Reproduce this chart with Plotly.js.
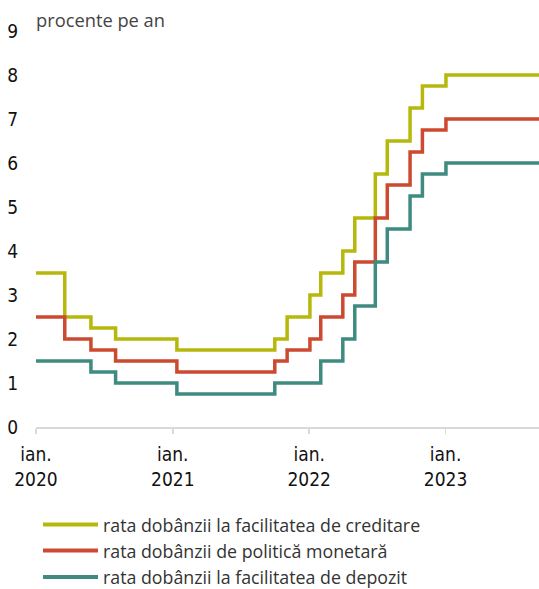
<!DOCTYPE html>
<html>
<head>
<meta charset="utf-8">
<script src="https://cdn.plot.ly/plotly-3.0.1.min.js"></script>
<style>
  html, body { margin: 0; padding: 0; background: #fff; }
  #chart { width: 539px; height: 589px; }
</style>
</head>
<body>
<div id="chart"></div>
<script>
// ---- data ----
const dates = ['2020-01-01','2020-03-18','2020-05-27','2020-08-01','2021-01-12','2021-10-01','2021-11-03','2022-01-03','2022-02-01','2022-04-01','2022-05-03','2022-06-27','2022-07-29','2022-09-28','2022-10-31','2023-01-02','2023-09-08'];
const lendingRate = [3.5,2.5,2.25,2.0,1.75,2.0,2.5,3.0,3.5,4.0,4.75,5.75,6.5,7.25,7.75,8.0,8.0];
const policyRate  = [2.5,2.0,1.75,1.5,1.25,1.5,1.75,2.0,2.5,3.0,3.75,4.75,5.5,6.25,6.75,7.0,7.0];
const depositRate = [1.5,1.5,1.25,1.0,0.75,1.0,1.0,1.0,1.5,2.0,2.75,3.75,4.5,5.25,5.75,6.0,6.0];
const seriesNames = ['rata dobânzii la facilitatea de creditare','rata dobânzii de politică monetară','rata dobânzii la facilitatea de depozit'];
const seriesColors = ['#b6b80c','#cc4a30','#3f8b80'];
const tickDates = ['2020-01-01','2021-01-01','2022-01-01','2023-01-01'];
const tickLabels = ['ian.<br>2020','ian.<br>2021','ian.<br>2022','ian.<br>2023'];
const yTicks = [0,1,2,3,4,5,6,7,8,9];
const unitLabel = 'procente pe an';

const seriesValues = [lendingRate, policyRate, depositRate];
const traces = seriesValues.map((v, i) => ({
  x: dates, y: v, type: 'scatter', mode: 'lines', name: seriesNames[i],
  line: {color: seriesColors[i], width: 3.5, shape: 'hv'},
  showlegend: false, hoverinfo: 'skip'
}));

// custom legend (paper coords)
const W = 539, H = 589, L = 36, R = 0, T = 31, B = 162;
const pw = W - L - R, ph = H - T - B;
const px = p => (p - L) / pw;
const py = p => (H - B - p) / ph;
const legendRows = [524.5, 550.5, 577];
const shapes = [], annotations = [];
seriesNames.forEach((n, i) => {
  shapes.push({type: 'line', xref: 'paper', yref: 'paper', x0: px(43), x1: px(98), y0: py(legendRows[i]), y1: py(legendRows[i]),
    line: {color: seriesColors[i], width: 4}});
  annotations.push({xref: 'paper', yref: 'paper', x: px(101), y: py(legendRows[i]), xanchor: 'left', yanchor: 'middle',
    text: n, showarrow: false, font: {family: 'Open Sans, sans-serif', size: 17.8, color: '#333'}});
});

const condensed = 'DejaVu Sans Condensed, Liberation Sans Narrow, sans-serif';
const layout = {
  width: W, height: H,
  margin: {l: L, r: R, t: T, b: B, pad: 0},
  paper_bgcolor: '#fff', plot_bgcolor: '#fff',
  showlegend: false,
  title: {text: unitLabel, xref: 'paper', x: 0, xanchor: 'left', yref: 'container', y: 1 - 21/H, yanchor: 'middle',
    font: {family: 'Open Sans, sans-serif', size: 18.3, color: '#444'}},
  xaxis: {
    type: 'date', range: [dates[0], dates[dates.length - 1]],
    tickvals: tickDates, ticktext: tickLabels,
    showgrid: false, zeroline: false,
    showline: true, linecolor: '#d9d9d9', linewidth: 2,
    ticks: 'outside', ticklen: 5, tickwidth: 1.5, tickcolor: '#d9d9d9',
    ticklabelstandoff: 4,
    tickfont: {family: condensed, size: 19, color: '#111'}
  },
  yaxis: {
    range: [0, 9], tickvals: yTicks, ticktext: yTicks.map(String),
    showgrid: false, zeroline: false, showline: false, ticks: '',
    ticklabelstandoff: 17,
    tickfont: {family: condensed, size: 19, color: '#111'}
  },
  shapes: shapes,
  annotations: annotations
};

Plotly.newPlot('chart', traces, layout, {displayModeBar: false, staticPlot: true});
</script>
</body>
</html>
